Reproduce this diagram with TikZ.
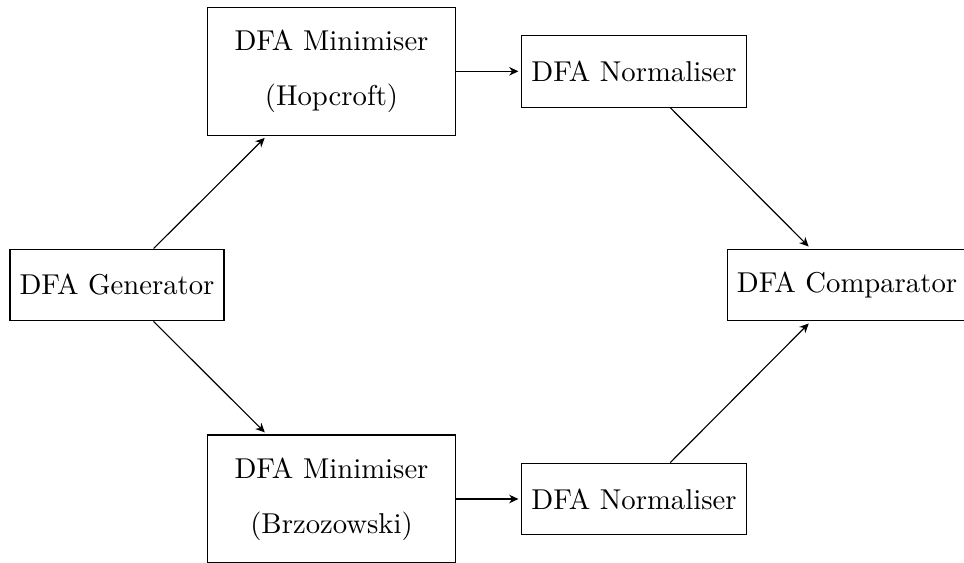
\documentclass[tikz,border=0pt]{standalone}
\usetikzlibrary{arrows.meta}
\begin{document}
\begin{tikzpicture}[x=0.3484pt, y=-0.3484pt,
  stage/.style={draw, rectangle, minimum height=25pt, inner sep=3.33pt},
  minbox/.style={stage, minimum width=86.4pt, minimum height=44.6pt, align=center},
  flow/.style={-{Stealth[length=3.2pt, width=3pt, inset=1pt]}, shorten >=1pt}]
  \useasboundingbox (0,0) rectangle (964,563);

  % pipeline stages
  \node[stage]  (gen) at (117,285)   {DFA Generator};
  \node[minbox] (hop) at (331.5,71.3) {DFA Minimiser\\[7.2pt](Hopcroft)};
  \node[minbox] (brz) at (331.5,499) {DFA Minimiser\\[7.2pt](Brzozowski)};
  \node[stage]  (nt)  at (634,71.3)  {DFA Normaliser};
  \node[stage]  (nb)  at (634,499)   {DFA Normaliser};
  \node[stage]  (cmp) at (847,285)   {DFA Comparator};

  % data flow
  \draw[flow] (gen) -- (hop);
  \draw[flow] (gen) -- (brz);
  \draw[flow] (hop) -- (nt);
  \draw[flow] (brz) -- (nb);
  \draw[flow] (nt) -- (cmp);
  \draw[flow] (nb) -- (cmp);
\end{tikzpicture}
\end{document}
